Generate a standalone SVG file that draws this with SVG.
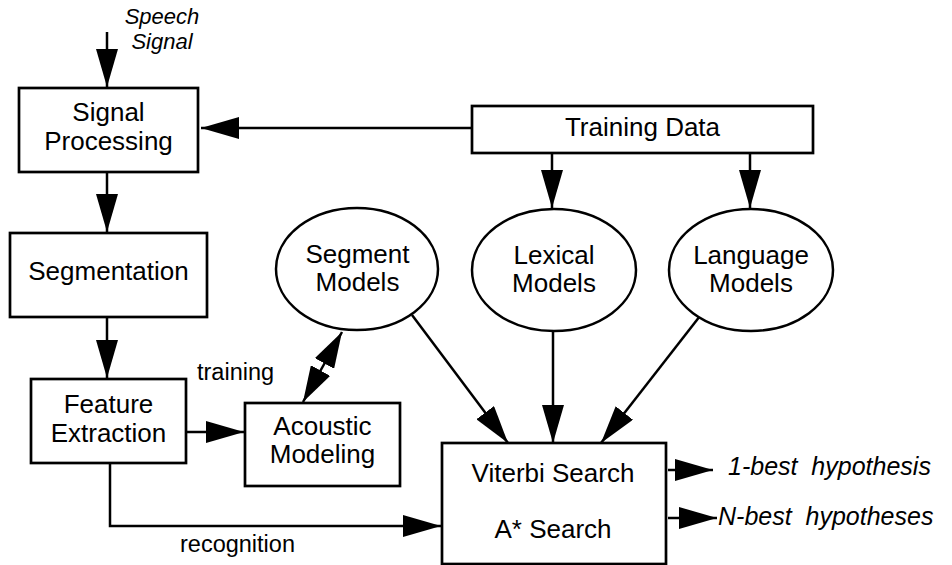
<svg xmlns="http://www.w3.org/2000/svg" width="952" height="565" viewBox="0 0 952 565">
<style>
  .box { fill: #fff; stroke: #000; stroke-width: 2.7; }
  .ell { fill: #fff; stroke: #000; stroke-width: 2.5; }
  .ln { fill: none; stroke: #000; stroke-width: 2.5; }
  .ar { marker-end: url(#ah); }
  text { font-family: "Liberation Sans", Arial, Helvetica, sans-serif; fill: #000; }
  .nd { font-size: 26px; text-anchor: middle; }
  .lb { font-size: 23.5px; }
  .sp { font-size: 22px; font-style: italic; text-anchor: middle; }
  .out { font-size: 25px; font-style: italic; }
</style>
<defs>
  <marker id="ah" markerUnits="userSpaceOnUse" viewBox="0 0 38 22" markerWidth="38" markerHeight="22" refX="38" refY="11" orient="auto">
    <path d="M0,0 L38,11 L0,22 z" fill="#000"/>
  </marker>
  <marker id="ahd" markerUnits="userSpaceOnUse" viewBox="0 0 36 22" markerWidth="36" markerHeight="22" refX="36" refY="11" orient="auto-start-reverse">
    <path d="M0,0 L36,11 L0,22 z" fill="#000"/>
  </marker>
</defs>

<g id="connectors">
  <line class="ln ar" x1="107" y1="32" x2="107" y2="87"/>
  <line class="ln ar" x1="472" y1="128" x2="201" y2="128"/>
  <line class="ln ar" x1="107" y1="172" x2="107" y2="232"/>
  <line class="ln ar" x1="107" y1="317" x2="107" y2="378"/>
  <line class="ln ar" x1="552" y1="153" x2="552" y2="208"/>
  <line class="ln ar" x1="750" y1="153" x2="750" y2="208"/>
  <line class="ln ar" x1="186" y1="432" x2="244" y2="432"/>
  <line class="ln" x1="342" y1="332" x2="303" y2="402" marker-start="url(#ahd)" marker-end="url(#ahd)"/>
  <polyline class="ln ar" points="110,463 110,526 441,526"/>
  <line class="ln ar" x1="412" y1="315" x2="508" y2="443"/>
  <line class="ln ar" x1="553" y1="331" x2="553" y2="443"/>
  <line class="ln ar" x1="700" y1="316" x2="601" y2="443"/>
  <line class="ln ar" x1="668" y1="470" x2="713" y2="470"/>
  <line class="ln ar" x1="668" y1="518" x2="717" y2="518"/>
</g>

<g id="speech-signal">
  <text class="sp" x="162" y="24">Speech</text>
  <text class="sp" x="162" y="49">Signal</text>
</g>

<g id="signal-processing">
  <rect class="box" x="19" y="88" width="179" height="84"/>
  <text class="nd" x="108.5" y="121">Signal</text>
  <text class="nd" x="108.5" y="150">Processing</text>
</g>

<g id="training-data">
  <rect class="box" x="472" y="106" width="341" height="47"/>
  <text class="nd" x="642.5" y="136">Training Data</text>
</g>

<g id="segmentation">
  <rect class="box" x="10" y="233" width="197" height="84"/>
  <text class="nd" x="108.5" y="280">Segmentation</text>
</g>

<g id="segment-models">
  <ellipse class="ell" cx="357" cy="269" rx="81" ry="61"/>
  <text class="nd" x="357.5" y="263">Segment</text>
  <text class="nd" x="357.5" y="291">Models</text>
</g>

<g id="lexical-models">
  <ellipse class="ell" cx="554" cy="270" rx="82" ry="61"/>
  <text class="nd" x="554" y="264">Lexical</text>
  <text class="nd" x="554" y="292">Models</text>
</g>

<g id="language-models">
  <ellipse class="ell" cx="751" cy="270" rx="82" ry="61"/>
  <text class="nd" x="751" y="264">Language</text>
  <text class="nd" x="751" y="292">Models</text>
</g>

<g id="feature-extraction">
  <rect class="box" x="31" y="379" width="155" height="84"/>
  <text class="nd" x="108.5" y="413">Feature</text>
  <text class="nd" x="108.5" y="442">Extraction</text>
</g>

<g id="acoustic-modeling">
  <rect class="box" x="245" y="403" width="155" height="83"/>
  <text class="nd" x="322.5" y="435">Acoustic</text>
  <text class="nd" x="322.5" y="463">Modeling</text>
</g>

<g id="search">
  <rect class="box" x="442" y="443" width="224" height="121"/>
  <text class="nd" x="553" y="482">Viterbi Search</text>
  <text class="nd" x="553" y="538">A* Search</text>
</g>

<g id="labels">
  <text class="lb" x="197" y="380">training</text>
  <text class="lb" x="237.5" y="552" text-anchor="middle">recognition</text>
  <text class="out" x="728" y="475" xml:space="preserve">1-best  hypothesis</text>
  <text class="out" x="718" y="525" xml:space="preserve">N-best  hypotheses</text>
</g>
</svg>
